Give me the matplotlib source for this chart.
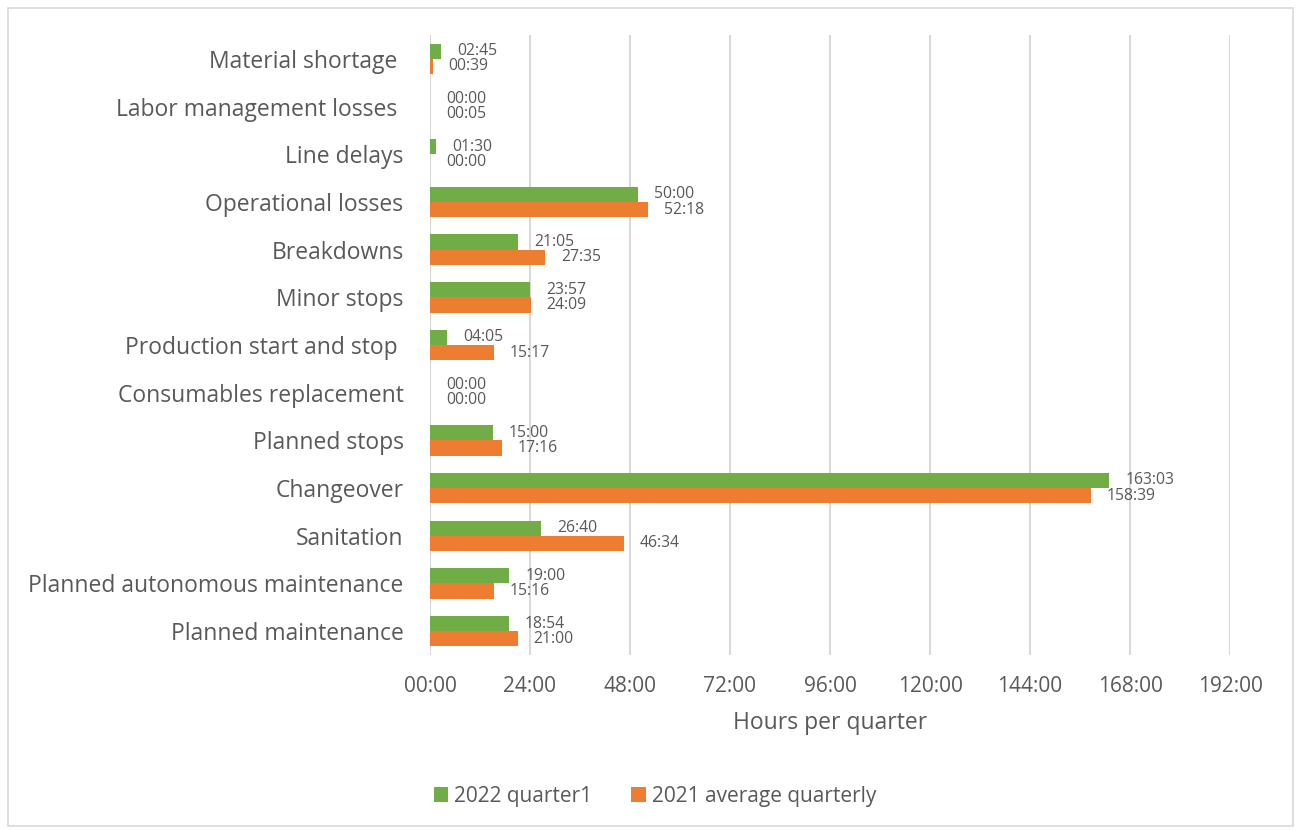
import matplotlib
matplotlib.use("Agg")
import matplotlib.pyplot as plt
from matplotlib.patches import Rectangle
import numpy as np

plt.rcParams["font.family"] = ["Open Sans", "DejaVu Sans"]

categories = [
    "Material shortage ",
    "Labor management losses ",
    "Line delays",
    "Operational losses",
    "Breakdowns",
    "Minor stops",
    "Production start and stop ",
    "Consumables replacement",
    "Planned stops",
    "Changeover",
    "Sanitation",
    "Planned autonomous maintenance",
    "Planned maintenance",
]
q1_2022 = ["02:45", "00:00", "01:30", "50:00", "21:05", "23:57", "04:05",
           "00:00", "15:00", "163:03", "26:40", "19:00", "18:54"]
avg_2021 = ["00:39", "00:05", "00:00", "52:18", "27:35", "24:09", "15:17",
            "00:00", "17:16", "158:39", "46:34", "15:16", "21:00"]
xticks = [0, 24, 48, 72, 96, 120, 144, 168, 192]

GREEN = "#70ad47"
ORANGE = "#ed7d31"
TEXT = "#595959"
GRID = "#d9d9d9"


def to_hours(s):
    h, m = s.split(":")
    return int(h) + int(m) / 60.0


def fmt(h):
    total = int(round(h * 60))
    return "%02d:%02d" % (total // 60, total % 60)


g = np.array([to_hours(v) for v in q1_2022])
o = np.array([to_hours(v) for v in avg_2021])
y = np.arange(len(categories))
bh = 0.32

fig = plt.figure(figsize=(13.01, 8.3), dpi=100)
ax = fig.add_axes([430 / 1301, 1 - 655 / 830, 800 / 1301, 620 / 830])

ax.barh(y - bh / 2, g, height=bh, color=GREEN, label="2022 quarter1", zorder=3)
ax.barh(y + bh / 2, o, height=bh, color=ORANGE, label="2021 average quarterly", zorder=3)

# value labels just past the end of each bar
for yi, gv, ov in zip(y, g, o):
    ax.annotate(fmt(gv), (gv, yi - bh / 2), xytext=(16, 0), textcoords="offset pixels",
                va="center", ha="left", fontsize=11.3, color=TEXT)
    ax.annotate(fmt(ov), (ov, yi + bh / 2), xytext=(16, 0), textcoords="offset pixels",
                va="center", ha="left", fontsize=11.3, color=TEXT)

ax.set_xlim(0, 192)
ax.set_ylim(len(categories) - 0.5, -0.5)
ax.set_xticks(xticks)
ax.set_xticklabels([fmt(v) for v in xticks], fontsize=15, color=TEXT)
ax.set_yticks(y)
ax.set_yticklabels(categories, fontsize=16.5, color=TEXT)
ax.tick_params(axis="both", length=0)
ax.tick_params(axis="x", pad=15)
ax.tick_params(axis="y", pad=19)
ax.grid(axis="x", color=GRID, linewidth=1.5, zorder=0)
for sp in ax.spines.values():
    sp.set_visible(False)
ax.set_xlabel("Hours per quarter", fontsize=16.5, color=TEXT, labelpad=10)

fig.legend(loc="center", bbox_to_anchor=(655 / 1301, 1 - 796 / 830), ncol=2,
           frameon=False, fontsize=15, labelcolor=TEXT, handlelength=0.7,
           handleheight=0.7, handletextpad=0.3, columnspacing=1.85)

# light frame round the whole chart
fig.patches.append(Rectangle((8 / 1301, 4 / 830), 1285 / 1301, 818 / 830,
                             transform=fig.transFigure, fill=False,
                             edgecolor=GRID, linewidth=1.2))

fig.savefig("out.png", dpi=100)
